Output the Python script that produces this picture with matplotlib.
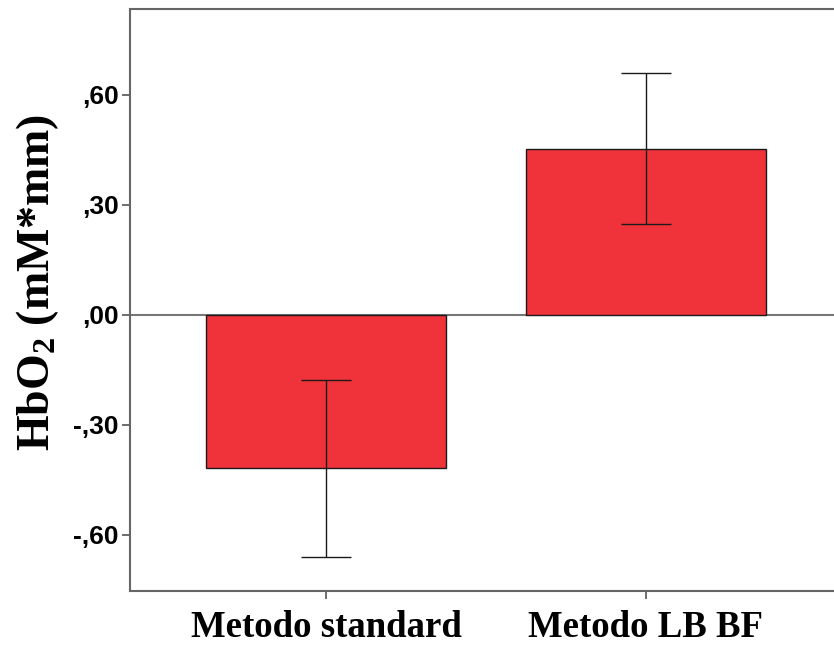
import matplotlib
matplotlib.use("Agg")
import matplotlib.pyplot as plt

plt.rcParams["mathtext.fontset"] = "custom"
plt.rcParams["mathtext.rm"] = "Liberation Serif:bold"
plt.rcParams["mathtext.bf"] = "Liberation Serif:bold"
plt.rcParams["mathtext.it"] = "Liberation Serif:bold"

categories = ["Metodo standard", "Metodo LB BF"]
means = [-0.417, 0.453]
err_low = [0.243, 0.205]
err_high = [0.240, 0.207]
yticks = [-0.60, -0.30, 0.00, 0.30, 0.60]
ytick_labels = ["-,60", "-,30", ",00", ",30", ",60"]

fig = plt.figure(figsize=(8.34, 6.46), dpi=100)
ax = fig.add_axes([130/834, 55/646, 704/834, 582/646])

x = list(range(len(categories)))
ax.bar(x, means, width=0.747, color="#F0323A", edgecolor="#1a1a1a", linewidth=1.0, zorder=2)
ax.errorbar(x, means, yerr=[err_low, err_high], fmt="none", ecolor="#1a1a1a",
            elinewidth=1.0, capsize=18, capthick=1.0, zorder=3)
ax.axhline(0, color="#777777", linewidth=1.5, zorder=1)

ax.set_xlim(-0.6125, 1.5875)
ax.set_ylim(-0.753, 0.834)
ax.set_yticks(yticks)
ax.set_yticklabels(ytick_labels, fontfamily="Liberation Sans", fontweight="bold", fontsize=19)
ax.set_xticks(x)
ax.set_xticklabels(categories, fontfamily="Liberation Serif", fontweight="bold", fontsize=26.5)
ax.tick_params(axis="both", color="#555555", length=6, width=1.2)
ax.tick_params(axis="y", pad=2)
ax.tick_params(axis="x", pad=8)

for s in ["left", "bottom", "top"]:
    ax.spines[s].set_color("#666666")
    ax.spines[s].set_linewidth(1.5)
ax.spines["right"].set_visible(False)

ax.set_ylabel(r"HbO$_\mathbf{2}$ (mM*mm)", fontfamily="Liberation Serif", fontweight="bold",
              fontsize=33)
ax.yaxis.set_label_coords(-0.098, 0.53)

fig.savefig("out.png", dpi=100)
